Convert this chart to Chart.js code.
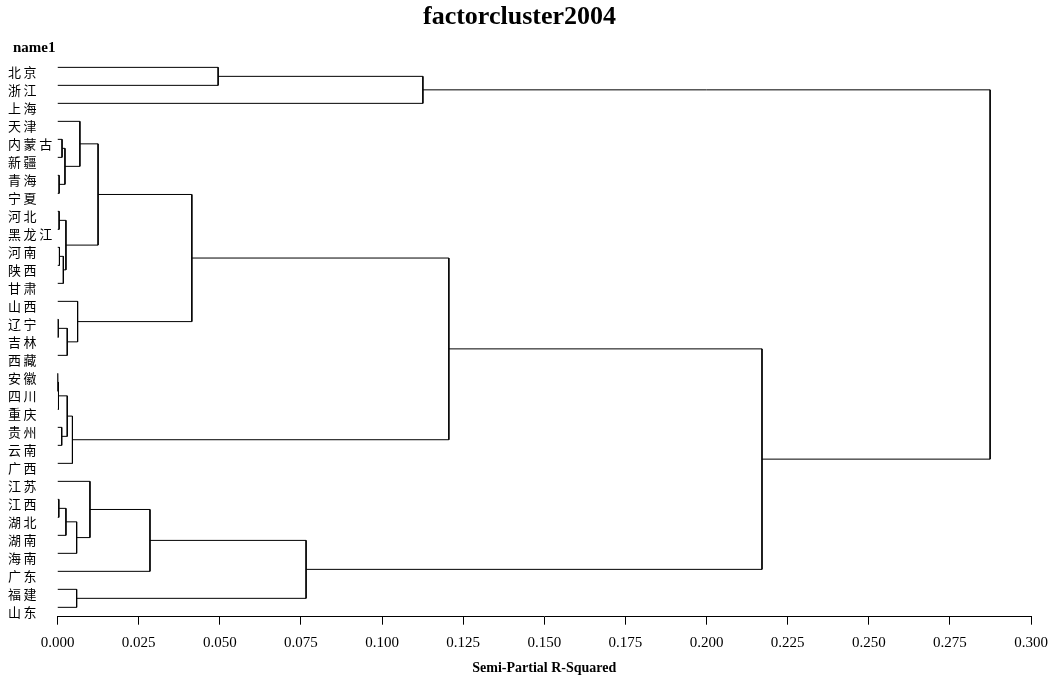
<!DOCTYPE html>
<html>
<head>
<meta charset="utf-8">
<title>factorcluster2004</title>
<script src="https://cdn.jsdelivr.net/npm/chart.js@4.4.1/dist/chart.umd.min.js"></script>
<style>
  html, body { margin: 0; padding: 0; background: #fff; }
  #wrap { width: 1060px; height: 682px; position: relative; }
</style>
</head>
<body>
<div id="wrap"><canvas id="tree"></canvas></div>
<script>
/* leaves, top to bottom (index = row) */
const leaves = ['北京', '浙江', '上海', '天津', '内蒙古', '新疆', '青海', '宁夏', '河北', '黑龙江',
  '河南', '陕西', '甘肃', '山西', '辽宁', '吉林', '西藏', '安徽', '四川', '重庆',
  '贵州', '云南', '广西', '江苏', '江西', '湖北', '湖南', '海南', '广东', '福建', '山东'];

/* merges: node 31 is the first merge, 32 the second ... (linkage style) */
const mergeLeft   = [17, 14, 31, 24, 6, 8, 10, 20, 4, 37, 39, 36, 34, 33, 32, 44, 29, 43, 13, 3, 23, 50, 51, 52, 0, 53, 55, 54, 58, 57];
const mergeRight  = [18, 15, 19, 25, 7, 9, 11, 21, 5, 12, 35, 40, 26, 38, 16, 22, 30, 27, 45, 41, 48, 42, 28, 49, 1, 47, 2, 46, 56, 59];
const mergeHeight = [0.0001, 0.0002, 0.0003, 0.0004, 0.0005, 0.0005, 0.0006, 0.0013, 0.0014, 0.0018,
  0.0023, 0.0026, 0.0026, 0.0030, 0.0030, 0.0046, 0.0059, 0.0059, 0.0062, 0.0069,
  0.0100, 0.0125, 0.0285, 0.0414, 0.0495, 0.0766, 0.1126, 0.1206, 0.2171, 0.2874];

const xTicks = [0, 0.025, 0.05, 0.075, 0.1, 0.125, 0.15, 0.175, 0.2, 0.225, 0.25, 0.275, 0.3];

// row position and height of every node (leaves sit at height 0)
const rowOf = leaves.map((_, i) => i);
const hOf = leaves.map(() => 0);
const segments = [];
mergeHeight.forEach((h, k) => {
  const l = mergeLeft[k], r = mergeRight[k];
  rowOf.push((rowOf[l] + rowOf[r]) / 2);
  hOf.push(h);
  segments.push({
    data: [
      { x: hOf[l], y: rowOf[l] }, { x: h, y: rowOf[l] },
      { x: h, y: rowOf[r] }, { x: hOf[r], y: rowOf[r] }
    ],
    showLine: true, borderColor: '#000', borderWidth: 1,
    pointRadius: 0, fill: false, tension: 0
  });
});

// "name1" header above the labels
const idLabel = {
  id: 'idLabel',
  afterDraw(chart) {
    const ctx = chart.ctx;
    ctx.save();
    ctx.font = 'bold 15px "Liberation Serif"';
    ctx.fillStyle = '#000';
    ctx.textBaseline = 'alphabetic';
    ctx.fillText('name1', 13, 52);
    ctx.restore();
  }
};

new Chart(document.getElementById('tree'), {
  type: 'scatter',
  data: { datasets: segments },
  plugins: [idLabel],
  options: {
    responsive: true,
    maintainAspectRatio: false,
    animation: false,
    layout: { padding: { left: 8, right: 29, top: 0, bottom: 0 } },
    plugins: {
      legend: { display: false },
      tooltip: { enabled: false },
      title: {
        display: true,
        text: 'factorcluster2004',
        color: '#000',
        font: { family: 'Liberation Serif', size: 26, weight: 'bold' },
        padding: { top: 2, bottom: 24.8 }
      }
    },
    scales: {
      x: {
        type: 'linear', min: 0, max: 0.3,
        afterBuildTicks: s => { s.ticks = xTicks.map(v => ({ value: v })); },
        afterFit: s => { s.height = 65.3; },
        grid: { drawOnChartArea: false, drawTicks: true, tickLength: 8, color: '#000' },
        border: { display: true, color: '#000', width: 1 },
        ticks: {
          color: '#000', padding: 9, maxRotation: 0, autoSkip: false,
          font: { family: 'Liberation Serif', size: 15 },
          callback: v => Number(v).toFixed(3)
        },
        title: {
          display: true, text: 'Semi-Partial R-Squared', color: '#000',
          font: { family: 'Liberation Serif', size: 14, weight: 'bold' },
          padding: { top: 0, bottom: 5 }
        }
      },
      y: {
        type: 'linear', min: -0.52, max: 30.52, reverse: true,
        afterBuildTicks: s => { s.ticks = leaves.map((_, i) => ({ value: i })); },
        afterFit: s => { s.width = 49.5; },
        grid: { display: false, drawTicks: false },
        border: { display: false },
        ticks: {
          color: '#000', padding: 0, crossAlign: 'far', labelOffset: 5, autoSkip: false,
          font: { family: 'Noto Sans CJK SC', size: 13 },
          callback: v => leaves[v] ? leaves[v].split('').join('\u2009') : ''
        }
      }
    }
  }
});
</script>
</body>
</html>
